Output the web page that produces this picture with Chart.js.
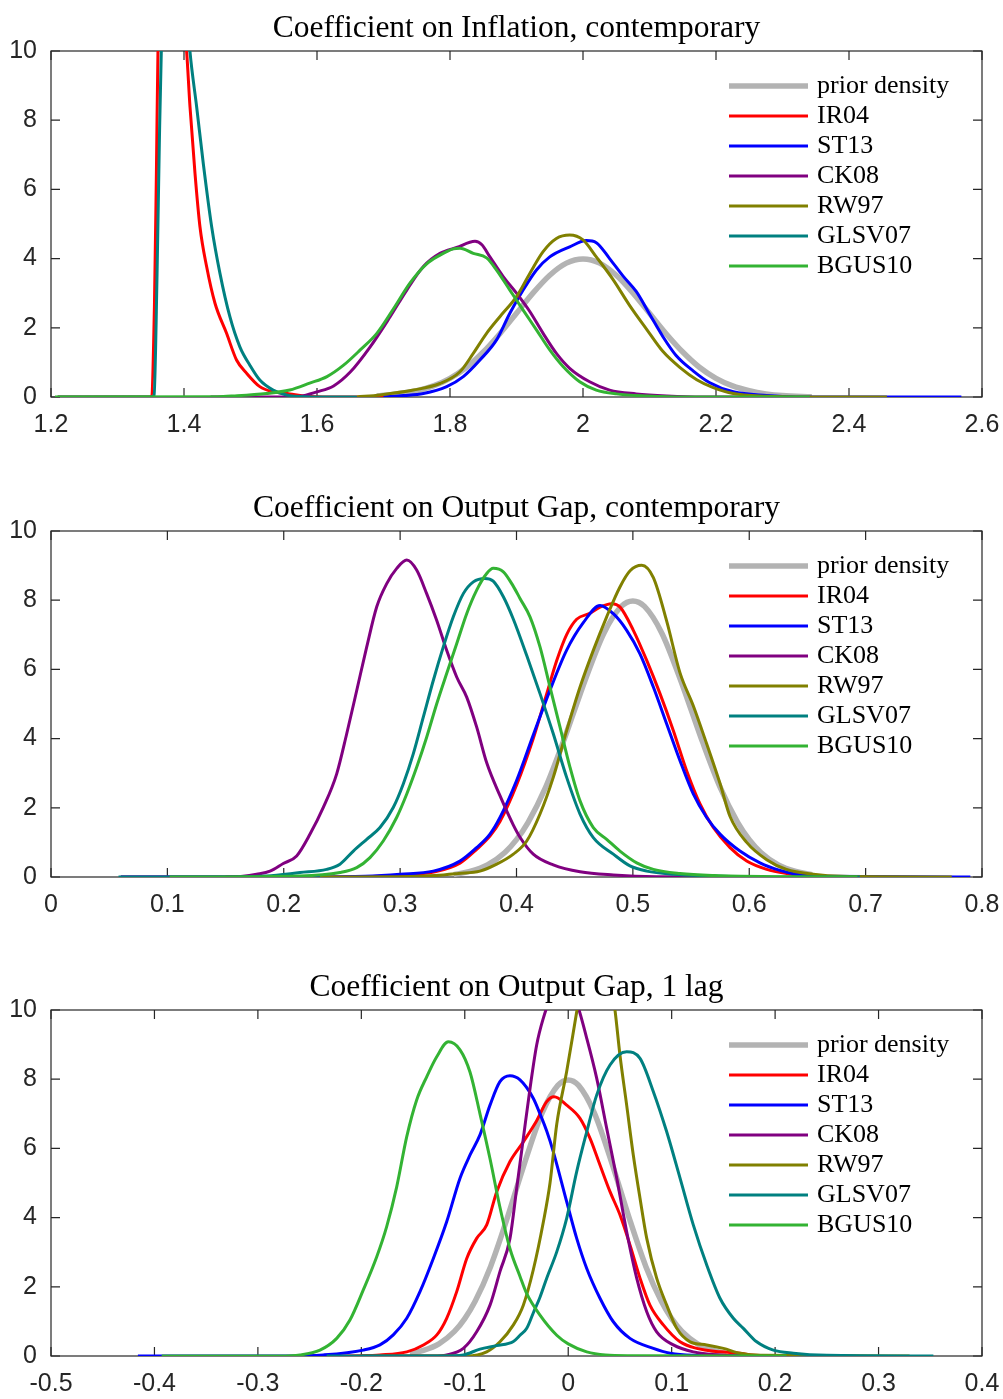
<!DOCTYPE html>
<html>
<head>
<meta charset="utf-8">
<script src="https://cdn.jsdelivr.net/npm/chart.js@4.4.1/dist/chart.umd.min.js"></script>
<style>
  html, body { margin: 0; padding: 0; background: #fff; overflow: hidden; }
  .panel { position: absolute; left: 0; width: 1003px; height: 440px; }
</style>
</head>
<body>
<div class="panel" style="top:0px"><canvas id="inflChart" width="1003" height="440"></canvas></div>
<div class="panel" style="top:480px"><canvas id="gapChart" width="1003" height="440"></canvas></div>
<div class="panel" style="top:959px"><canvas id="lagChart" width="1003" height="440"></canvas></div>
<script>
// posterior densities vs prior, one panel per coefficient
var panelTitles = [
    'Coefficient on Inflation, contemporary',
    'Coefficient on Output Gap, contemporary',
    'Coefficient on Output Gap, 1 lag'
];
var seriesNames = ['prior density', 'IR04', 'ST13', 'CK08', 'RW97', 'GLSV07', 'BGUS10'];

var inflTicks = [1.2, 1.4, 1.6, 1.8, 2, 2.2, 2.4, 2.6];
var gapTicks = [0, 0.1, 0.2, 0.3, 0.4, 0.5, 0.6, 0.7, 0.8];
var lagTicks = [-0.5, -0.4, -0.3, -0.2, -0.1, 0, 0.1, 0.2, 0.3, 0.4];
var densTicks = [0, 2, 4, 6, 8, 10];

// --- inflation, contemporary ---
var inflPrior = [[1.69,0.03],[1.72,0.09],[1.75,0.18],[1.775,0.32],[1.8,0.54],[1.825,0.86],[1.85,1.3],[1.875,1.83],
    [1.9,2.42],[1.925,3.01],[1.95,3.52],[1.975,3.87],[2.0,3.99],[2.025,3.87],[2.05,3.52],[2.075,3.01],[2.1,2.42],
    [2.125,1.83],[2.15,1.3],[2.175,0.86],[2.2,0.54],[2.225,0.32],[2.25,0.18],[2.275,0.09],[2.3,0.04],[2.344,0.01]];
var inflIR04 = [[1.21,0],[1.347,0],[1.351,0.02],[1.3555,2.6],[1.3585,6.5],[1.361,10.2],[1.37,13],[1.385,13.5],
    [1.397,11.5],[1.404,9.98],[1.409,8.39],[1.4165,6.47],[1.424,4.92],[1.434,3.77],[1.4466,2.71],[1.464,1.84],
    [1.479,1.07],[1.494,0.69],[1.514,0.3],[1.534,0.15],[1.559,0.09],[1.58,0.03],[1.62,0],[1.725,0]];
var inflST13 = [[1.7,0],[1.73,0.04],[1.76,0.1],[1.795,0.3],[1.82,0.59],[1.845,1.07],[1.87,1.65],[1.89,2.42],
    [1.91,3.09],[1.93,3.67],[1.95,4.05],[1.98,4.34],[2.005,4.52],[2.02,4.46],[2.04,4.0],[2.06,3.5],[2.08,3.05],
    [2.1,2.4],[2.12,1.75],[2.14,1.2],[2.166,0.75],[2.19,0.42],[2.226,0.15],[2.276,0.04],[2.32,0],[2.569,0]];
var inflCK08 = [[1.44,0],[1.55,0],[1.574,0.02],[1.6,0.15],[1.625,0.32],[1.65,0.72],[1.68,1.45],[1.71,2.32],
    [1.735,3.09],[1.76,3.77],[1.785,4.15],[1.81,4.32],[1.8376,4.5],[1.848,4.4],[1.86,4.05],[1.88,3.48],[1.9,3.0],
    [1.92,2.47],[1.94,1.84],[1.96,1.26],[1.98,0.83],[2.01,0.44],[2.04,0.2],[2.08,0.09],[2.126,0.03],[2.18,0],[2.3,0]];
var inflRW97 = [[1.66,0],[1.695,0.06],[1.745,0.2],[1.785,0.39],[1.815,0.73],[1.835,1.26],[1.855,1.84],[1.875,2.32],
    [1.9,2.9],[1.92,3.57],[1.94,4.2],[1.96,4.58],[1.98,4.68],[2.0,4.54],[2.02,4.05],[2.045,3.4],[2.07,2.65],
    [2.096,1.95],[2.12,1.32],[2.146,0.85],[2.171,0.5],[2.195,0.28],[2.226,0.1],[2.276,0.02],[2.32,0],[2.457,0]];
var inflGLSV07 = [[1.21,0],[1.351,0],[1.355,0.05],[1.3595,3.57],[1.363,7.43],[1.366,10.1],[1.375,13],[1.39,13.5],
    [1.403,11.5],[1.409,9.98],[1.419,8.39],[1.429,6.75],[1.4416,4.92],[1.454,3.58],[1.469,2.32],[1.484,1.45],
    [1.499,0.92],[1.514,0.49],[1.534,0.2],[1.554,0.06],[1.58,0.01],[1.66,0]];
var inflBGUS10 = [[1.206,0],[1.45,0.01],[1.474,0.03],[1.524,0.1],[1.559,0.2],[1.589,0.4],[1.615,0.59],[1.64,0.92],
    [1.665,1.36],[1.69,1.84],[1.715,2.55],[1.74,3.3],[1.765,3.85],[1.785,4.1],[1.805,4.28],[1.815,4.3],[1.835,4.15],
    [1.855,4.02],[1.87,3.67],[1.89,3.09],[1.91,2.51],[1.93,1.94],[1.95,1.36],[1.97,0.88],[1.995,0.44],[2.02,0.2],
    [2.05,0.09],[2.096,0.03],[2.15,0],[2.341,0]];

// --- output gap, contemporary ---
var gapPrior = [[0.346,0.07],[0.36,0.16],[0.375,0.35],[0.39,0.71],[0.4,1.08],[0.41,1.58],[0.425,2.59],[0.44,3.89],
    [0.45,4.84],[0.46,5.78],[0.475,7.04],[0.49,7.82],[0.5,7.98],[0.51,7.82],[0.525,7.04],[0.54,5.78],[0.55,4.84],
    [0.56,3.89],[0.575,2.59],[0.59,1.58],[0.6,1.08],[0.61,0.71],[0.625,0.35],[0.64,0.16],[0.654,0.07]];
var gapIR04 = [[0.06,0],[0.25,0],[0.3,0.05],[0.33,0.15],[0.3514,0.4],[0.3658,0.8],[0.3772,1.18],[0.3858,1.6],
    [0.4,2.65],[0.4144,4.0],[0.426,5.3],[0.4345,6.25],[0.443,7.0],[0.4517,7.45],[0.463,7.62],[0.4718,7.8],
    [0.4818,7.9],[0.489,7.8],[0.5004,7.13],[0.5119,6.26],[0.5233,5.3],[0.5348,4.23],[0.5462,3.07],[0.5577,2.11],
    [0.5691,1.43],[0.5835,0.85],[0.5978,0.46],[0.615,0.22],[0.632,0.1],[0.65,0.03],[0.7,0]];
var gapST13 = [[0.06,0],[0.228,0],[0.27,0.02],[0.3,0.08],[0.3285,0.17],[0.3514,0.46],[0.3658,0.85],[0.3772,1.24],
    [0.3858,1.72],[0.4,2.78],[0.4144,4.1],[0.4288,5.4],[0.443,6.55],[0.4574,7.35],[0.4718,7.85],[0.4832,7.61],
    [0.4947,7.13],[0.5061,6.45],[0.5176,5.49],[0.529,4.43],[0.5405,3.36],[0.5519,2.4],[0.5634,1.72],[0.5749,1.24],
    [0.592,0.75],[0.6092,0.41],[0.6264,0.19],[0.64,0.08],[0.66,0.02],[0.79,0]];
var gapCK08 = [[0.15,0],[0.165,0.02],[0.1767,0.08],[0.1882,0.17],[0.1996,0.39],[0.2111,0.61],[0.2226,1.24],
    [0.234,2.01],[0.2455,2.98],[0.2541,4.14],[0.2627,5.39],[0.2713,6.65],[0.2799,7.81],[0.2885,8.48],[0.2971,8.92],
    [0.3057,9.16],[0.3142,8.87],[0.3228,8.19],[0.3314,7.42],[0.34,6.55],[0.3486,5.78],[0.3572,5.2],[0.3658,4.33],
    [0.3744,3.3],[0.3858,2.35],[0.3973,1.5],[0.403,1.15],[0.4144,0.66],[0.4316,0.35],[0.4546,0.15],[0.4832,0.06],
    [0.52,0.01],[0.6,0]];
var gapRW97 = [[0.231,0],[0.3,0.01],[0.33,0.04],[0.35,0.1],[0.3686,0.17],[0.383,0.37],[0.3973,0.66],[0.4088,1.04],
    [0.4202,1.82],[0.4316,2.88],[0.4431,4.23],[0.4546,5.49],[0.466,6.55],[0.4775,7.52],[0.489,8.39],[0.4976,8.85],
    [0.5076,9.01],[0.5176,8.65],[0.529,7.4],[0.5405,5.9],[0.5519,4.95],[0.5634,3.85],[0.5749,2.7],[0.5835,1.75],
    [0.5978,1.0],[0.615,0.5],[0.632,0.22],[0.655,0.08],[0.68,0.02],[0.774,0]];
var gapGLSV07 = [[0.058,0],[0.128,0],[0.1853,0.03],[0.214,0.13],[0.2369,0.22],[0.2483,0.37],[0.2598,0.75],
    [0.2713,1.09],[0.2827,1.43],[0.2941,2.01],[0.3027,2.69],[0.3113,3.56],[0.3199,4.62],[0.3285,5.68],[0.3371,6.65],
    [0.3457,7.52],[0.3543,8.19],[0.3629,8.53],[0.3729,8.63],[0.38,8.55],[0.3887,8.1],[0.3973,7.45],[0.4088,6.4],
    [0.4202,5.3],[0.4316,4.14],[0.4431,2.88],[0.4546,1.82],[0.466,1.14],[0.4832,0.66],[0.4975,0.32],[0.5119,0.17],
    [0.5348,0.08],[0.57,0.03],[0.62,0],[0.695,0]];
var gapBGUS10 = [[0.102,0],[0.214,0.03],[0.2483,0.13],[0.2627,0.27],[0.2741,0.56],[0.2855,1.04],[0.297,1.72],
    [0.3057,2.4],[0.3142,3.17],[0.3228,4.04],[0.3314,5.0],[0.34,5.88],[0.3486,6.74],[0.3572,7.61],[0.3658,8.29],
    [0.3744,8.77],[0.38,8.92],[0.3887,8.82],[0.3973,8.4],[0.403,8.05],[0.4116,7.52],[0.4202,6.65],[0.4288,5.49],
    [0.4374,4.33],[0.446,3.17],[0.4546,2.2],[0.466,1.43],[0.4775,1.09],[0.4889,0.75],[0.5033,0.41],[0.5176,0.22],
    [0.5405,0.1],[0.57,0.04],[0.62,0.01],[0.693,0]];

// --- output gap, 1 lag ---
var lagPrior = [[-0.153,0.07],[-0.14,0.16],[-0.125,0.35],[-0.11,0.71],[-0.1,1.08],[-0.09,1.58],[-0.075,2.59],
    [-0.06,3.89],[-0.05,4.84],[-0.04,5.78],[-0.025,7.04],[-0.01,7.82],[0,7.98],[0.01,7.82],[0.025,7.04],[0.04,5.78],
    [0.05,4.84],[0.06,3.89],[0.075,2.59],[0.09,1.58],[0.1,1.08],[0.11,0.71],[0.125,0.35],[0.14,0.16],[0.153,0.07]];
var lagIR04 = [[-0.25,0],[-0.2,0.01],[-0.182,0.03],[-0.156,0.12],[-0.14,0.32],[-0.127,0.61],[-0.1175,1.09],
    [-0.1078,1.86],[-0.0981,2.82],[-0.0885,3.4],[-0.0788,3.79],[-0.0691,4.75],[-0.0563,5.62],[-0.0434,6.19],
    [-0.0305,6.8],[-0.0208,7.35],[-0.0136,7.49],[-0.0015,7.25],[0.0114,6.87],[0.0211,6.29],[0.0307,5.52],
    [0.0404,4.75],[0.05,4.08],[0.0597,3.21],[0.0694,2.25],[0.079,1.47],[0.0919,0.9],[0.1081,0.41],[0.1242,0.22],
    [0.1467,0.12],[0.166,0.08],[0.18,0.02],[0.25,0]];
var lagST13 = [[-0.416,0],[-0.27,0],[-0.2368,0.03],[-0.1981,0.17],[-0.182,0.32],[-0.1691,0.61],[-0.1561,1.09],
    [-0.1433,1.86],[-0.1304,2.82],[-0.1175,3.88],[-0.1046,5.14],[-0.0949,5.81],[-0.0853,6.39],[-0.0756,7.25],
    [-0.066,7.93],[-0.0563,8.1],[-0.0466,7.98],[-0.0338,7.45],[-0.0273,7.0],[-0.0208,6.5],[-0.0144,5.9],
    [-0.0015,4.46],[0.0082,3.4],[0.0179,2.53],[0.0307,1.67],[0.0436,0.99],[0.0597,0.51],[0.0823,0.22],
    [0.0984,0.08],[0.12,0.02],[0.2,0]];
var lagCK08 = [[-0.2,0],[-0.13,0],[-0.1175,0.03],[-0.1014,0.22],[-0.0885,0.7],[-0.0756,1.47],[-0.066,2.44],
    [-0.0563,3.4],[-0.0498,4.85],[-0.0434,6.29],[-0.0369,7.74],[-0.0305,8.99],[-0.0241,9.76],[-0.0176,10.3],
    [-0.005,10.8],[0.0082,10.2],[0.0179,9.18],[0.0275,8.03],[0.0372,6.58],[0.0469,5.14],[0.0565,3.59],[0.0662,2.25],
    [0.0759,1.28],[0.0855,0.7],[0.1016,0.32],[0.1209,0.12],[0.146,0.03],[0.18,0],[0.25,0]];
var lagRW97 = [[-0.2,0],[-0.0981,0],[-0.0788,0.12],[-0.066,0.41],[-0.053,0.9],[-0.0434,1.47],[-0.0337,2.5],
    [-0.024,3.88],[-0.0176,5.0],[-0.0111,6.7],[-0.0015,8.22],[0.0082,9.95],[0.02,12],[0.033,12.3],[0.0452,10.0],
    [0.05,8.7],[0.0565,7.25],[0.0629,5.81],[0.0694,4.56],[0.0759,3.4],[0.0855,2.25],[0.0952,1.47],[0.1049,0.8],
    [0.1178,0.41],[0.1339,0.32],[0.15,0.22],[0.166,0.08],[0.186,0.02],[0.33,0]];
var lagGLSV07 = [[-0.2335,0],[-0.12,0],[-0.1014,0.03],[-0.0853,0.2],[-0.0691,0.3],[-0.053,0.42],[-0.0466,0.6],
    [-0.0401,0.8],[-0.0337,1.25],[-0.0273,1.7],[-0.0208,2.25],[-0.0111,3.01],[-0.0015,3.98],[0.0082,5.33],
    [0.0179,6.48],[0.0275,7.54],[0.0404,8.41],[0.0565,8.79],[0.0694,8.6],[0.0823,7.64],[0.0952,6.48],[0.1081,5.14],
    [0.1209,3.79],[0.1339,2.63],[0.1467,1.67],[0.1596,1.09],[0.1693,0.8],[0.1822,0.41],[0.1983,0.17],[0.2176,0.08],
    [0.25,0.02],[0.353,0]];
var lagBGUS10 = [[-0.393,0],[-0.28,0],[-0.2593,0.03],[-0.24,0.17],[-0.2238,0.51],[-0.211,1.04],[-0.1981,1.91],
    [-0.1851,2.87],[-0.1755,3.74],[-0.1658,4.89],[-0.1561,6.34],[-0.1465,7.4],[-0.1368,8.07],[-0.1271,8.65],
    [-0.1159,9.08],[-0.1046,8.85],[-0.0949,8.2],[-0.0853,7.0],[-0.0756,5.7],[-0.066,4.3],[-0.0563,3.1],
    [-0.0466,2.3],[-0.0401,1.8],[-0.0273,1.18],[-0.0111,0.6],[0,0.35],[0.0179,0.12],[0.036,0.03],[0.06,0.01],[0.211,0]];

var seriesColors = ['#b3b3b3', '#ff0000', '#0000ff', '#800080', '#808000', '#008080', '#33b333'];
var seriesWidths = [5.5, 3, 3, 3, 3, 3, 3];

var axisColor = '#262626';

Chart.defaults.font.family = '"Liberation Sans", Arial, sans-serif';
Chart.defaults.font.size = 25;
Chart.defaults.color = axisColor;

// box, inward tick marks, title and legend, drawn the MATLAB way
var panelDecor = {
    id: 'panelDecor',
    beforeDatasetsDraw: function (chart) {
        var ctx = chart.ctx, a = chart.chartArea;
        var sx = chart.scales.x, sy = chart.scales.y;
        ctx.save();
        ctx.strokeStyle = axisColor;
        ctx.lineWidth = 1.2;
        ctx.strokeRect(a.left, a.top, a.right - a.left, a.bottom - a.top);
        ctx.beginPath();
        sx.ticks.forEach(function (t) {
            var px = sx.getPixelForValue(t.value);
            ctx.moveTo(px, a.bottom); ctx.lineTo(px, a.bottom - 9);
            ctx.moveTo(px, a.top); ctx.lineTo(px, a.top + 9);
        });
        sy.ticks.forEach(function (t) {
            var py = sy.getPixelForValue(t.value);
            ctx.moveTo(a.left, py); ctx.lineTo(a.left + 9, py);
            ctx.moveTo(a.right, py); ctx.lineTo(a.right - 9, py);
        });
        ctx.stroke();
        ctx.restore();
    },
    afterDraw: function (chart, args, opts) {
        var ctx = chart.ctx, a = chart.chartArea;
        ctx.save();
        ctx.fillStyle = '#000';
        ctx.textAlign = 'center';
        ctx.textBaseline = 'alphabetic';
        ctx.font = '31.5px "Liberation Serif", "Times New Roman", serif';
        ctx.fillText(opts.title, (a.left + a.right) / 2, a.top - 14);

        ctx.textAlign = 'left';
        ctx.font = '26px "Liberation Serif", "Times New Roman", serif';
        chart.data.datasets.forEach(function (ds, i) {
            var rowY = a.top + 35 + i * 30;
            ctx.beginPath();
            ctx.strokeStyle = ds.borderColor;
            ctx.lineWidth = ds.borderWidth;
            ctx.moveTo(a.right - 253, rowY);
            ctx.lineTo(a.right - 174, rowY);
            ctx.stroke();
            ctx.fillText(ds.label, a.right - 165, rowY + 7);
        });
        ctx.restore();
    }
};

function makePanel(id, title, series, xTicks) {
    var datasets = series.map(function (pts, i) {
        return {
            label: seriesNames[i],
            data: pts.map(function (p) { return { x: p[0], y: p[1] }; }),
            borderColor: seriesColors[i],
            borderWidth: seriesWidths[i],
            pointRadius: 0,
            fill: false,
            cubicInterpolationMode: 'monotone',
            borderJoinStyle: 'round',
            order: series.length - i
        };
    });

    return new Chart(document.getElementById(id), {
        type: 'line',
        data: { datasets: datasets },
        options: {
            responsive: false,
            animation: false,
            devicePixelRatio: 1,
            layout: { padding: { top: 51, right: 21, left: 0, bottom: 0 } },
            plugins: {
                legend: { display: false },
                title: { display: false },
                tooltip: { enabled: false },
                panelDecor: { title: title }
            },
            scales: {
                x: {
                    type: 'linear',
                    min: xTicks[0],
                    max: xTicks[xTicks.length - 1],
                    grid: { display: false, drawTicks: false },
                    border: { display: false },
                    afterBuildTicks: function (s) {
                        s.ticks = xTicks.map(function (v) { return { value: v }; });
                    },
                    afterFit: function (s) {
                        s.height = 43;
                        s.paddingLeft = 0;
                        s.paddingRight = 0;
                    },
                    ticks: {
                        padding: 13,
                        maxRotation: 0,
                        autoSkip: false,
                        callback: function (v) { return String(v); }
                    }
                },
                y: {
                    min: 0,
                    max: 10,
                    grid: { display: false, drawTicks: false },
                    border: { display: false },
                    afterBuildTicks: function (s) {
                        s.ticks = densTicks.map(function (v) { return { value: v }; });
                    },
                    afterFit: function (s) {
                        s.width = 51;
                        s.paddingTop = 0;
                        s.paddingBottom = 0;
                    },
                    ticks: {
                        padding: 14,
                        callback: function (v) { return String(v); }
                    }
                }
            }
        },
        plugins: [panelDecor]
    });
}

makePanel('inflChart', panelTitles[0],
    [inflPrior, inflIR04, inflST13, inflCK08, inflRW97, inflGLSV07, inflBGUS10], inflTicks);
makePanel('gapChart', panelTitles[1],
    [gapPrior, gapIR04, gapST13, gapCK08, gapRW97, gapGLSV07, gapBGUS10], gapTicks);
makePanel('lagChart', panelTitles[2],
    [lagPrior, lagIR04, lagST13, lagCK08, lagRW97, lagGLSV07, lagBGUS10], lagTicks);
</script>
</body>
</html>
